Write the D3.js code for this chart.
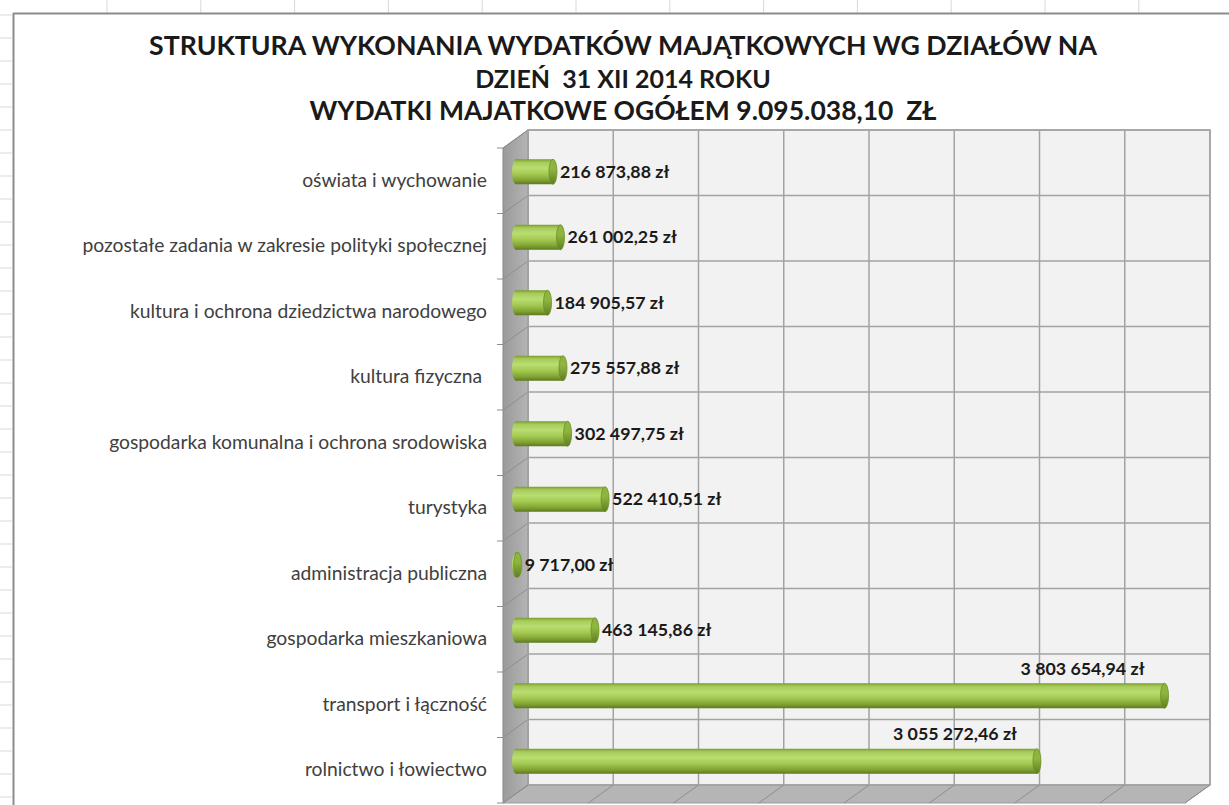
<!DOCTYPE html>
<html><head><meta charset="utf-8">
<script src="https://cdn.jsdelivr.net/npm/d3@7/dist/d3.min.js"></script>
<style>
html,body{margin:0;padding:0;background:#fff;}
svg{display:block;}
text{white-space:pre;}
</style></head>
<body>
<svg id="chart" width="1229" height="805"></svg>
<script>
// ---- data ----
const titleLines = [
  "STRUKTURA WYKONANIA WYDATKÓW MAJĄTKOWYCH WG DZIAŁÓW NA",
  "DZIEŃ  31 XII 2014 ROKU",
  "WYDATKI MAJATKOWE OGÓŁEM 9.095.038,10  ZŁ"
];
const categories = [
  "oświata i wychowanie",
  "pozostałe zadania w zakresie polityki społecznej",
  "kultura i ochrona dziedzictwa narodowego",
  "kultura fizyczna ",
  "gospodarka komunalna i ochrona srodowiska",
  "turystyka",
  "administracja publiczna",
  "gospodarka mieszkaniowa",
  "transport i łączność",
  "rolnictwo i łowiectwo"
];
const values = [216873.88, 261002.25, 184905.57, 275557.88, 302497.75, 522410.51, 9717.00, 463145.86, 3803654.94, 3055272.46];
const valueLabels = ["216 873,88 zł","261 002,25 zł","184 905,57 zł","275 557,88 zł","302 497,75 zł","522 410,51 zł","9 717,00 zł","463 145,86 zł","3 803 654,94 zł","3 055 272,46 zł"];
const xTicks = [0, 500000, 1000000, 1500000, 2000000, 2500000, 3000000, 3500000, 4000000];

// ---- layout ----
const svg = d3.select("#chart");
const W = 1229, H = 805;
const wall = {left: 528, right: 1210, top: 130, bottom: 785};
const depth = {dx: -25, dy: 18};
const barOff = {dx: -12, dy: 9};
const barH = 25, capRx = 4;
const FONT = "Lato, 'Open Sans', sans-serif";

const x = d3.scaleLinear().domain([0, 4000000]).range([0, wall.right - wall.left]);
const y = d3.scaleBand().domain(categories).range([wall.top, wall.bottom]).paddingInner(0).paddingOuter(0);

const defs = svg.append("defs");
const bg = defs.append("linearGradient").attr("id","barGrad").attr("x1",0).attr("y1",0).attr("x2",0).attr("y2",1);
[[0,"#7a9a30"],[0.12,"#a5cb58"],[0.35,"#badd72"],[0.6,"#a3c950"],[0.85,"#80a033"],[1,"#5b7a1d"]]
  .forEach(([o,c])=>bg.append("stop").attr("offset",o).attr("stop-color",c));
const cg = defs.append("linearGradient").attr("id","capGrad").attr("x1",0).attr("y1",0).attr("x2",0).attr("y2",1);
[[0,"#8db43e"],[0.4,"#8fb53f"],[1,"#5e7d20"]]
  .forEach(([o,c])=>cg.append("stop").attr("offset",o).attr("stop-color",c));
const sg = defs.append("linearGradient").attr("id","sideGrad").attr("x1",0).attr("y1",0).attr("x2",1).attr("y2",0);
[[0,"#9a9a9a"],[1,"#b4b4b4"]].forEach(([o,c])=>sg.append("stop").attr("offset",o).attr("stop-color",c));

// ---- spreadsheet background ----
const bgG = svg.append("g");
d3.range(107, W, 93.8).forEach(v=>bgG.append("line").attr("x1",v).attr("x2",v).attr("y1",0).attr("y2",13).attr("stroke","#d9d9d9"));
d3.range(15, H, 23).forEach(v=>bgG.append("line").attr("x1",0).attr("x2",12).attr("y1",v).attr("y2",v).attr("stroke","#d9d9d9"));
bgG.append("line").attr("x1",13).attr("x2",W).attr("y1",13.5).attr("y2",13.5).attr("stroke","#8c8c8c").attr("stroke-width",2);
bgG.append("line").attr("x1",13.5).attr("x2",13.5).attr("y1",13).attr("y2",H).attr("stroke","#8c8c8c").attr("stroke-width",2);

// ---- title ----
const tBase = [55, 88, 120];
const tSize = [26.7, 25, 26.5];
svg.append("g").selectAll("text").data(titleLines).join("text")
  .attr("x", 623).attr("y", (d,i)=>tBase[i])
  .attr("text-anchor","middle")
  .attr("font-family",FONT).attr("font-weight","bold").attr("font-size",(d,i)=>tSize[i])
  .attr("fill","#1a1a1a").text(d=>d);

// ---- walls ----
const g3 = svg.append("g");
g3.append("rect").attr("x",wall.left).attr("y",wall.top).attr("width",wall.right-wall.left).attr("height",wall.bottom-wall.top)
  .attr("fill","#f2f2f2").attr("stroke","#a0a0a0").attr("stroke-width",1.5);
g3.append("polygon").attr("points",[[wall.left,wall.top],[wall.left+depth.dx,wall.top+depth.dy],[wall.left+depth.dx,wall.bottom+depth.dy],[wall.left,wall.bottom]].join(" "))
  .attr("fill","url(#sideGrad)").attr("stroke","#8a8a8a").attr("stroke-width",1);
g3.append("polygon").attr("points",[[wall.left,wall.bottom],[wall.right,wall.bottom],[wall.right+depth.dx,wall.bottom+depth.dy],[wall.left+depth.dx,wall.bottom+depth.dy]].join(" "))
  .attr("fill","#b5b5b5").attr("stroke","#9a9a9a").attr("stroke-width",1);

const bounds = categories.map(c=>y(c)).concat([wall.bottom]);
bounds.forEach(b=>{
  g3.append("line").attr("x1",wall.left).attr("x2",wall.right).attr("y1",b).attr("y2",b).attr("stroke","#a3a3a3").attr("stroke-width",1.5);
  g3.append("line").attr("x1",wall.left).attr("x2",wall.left+depth.dx).attr("y1",b).attr("y2",b+depth.dy).attr("stroke","#8e8e8e").attr("stroke-width",1);
  g3.append("line").attr("x1",wall.left+depth.dx-6).attr("x2",wall.left+depth.dx).attr("y1",b+depth.dy).attr("y2",b+depth.dy).attr("stroke","#8e8e8e").attr("stroke-width",1);
});
xTicks.forEach(t=>{
  const xx = wall.left + x(t);
  g3.append("line").attr("x1",xx).attr("x2",xx).attr("y1",wall.top).attr("y2",wall.bottom).attr("stroke","#a3a3a3").attr("stroke-width",1.5);
  g3.append("line").attr("x1",xx).attr("x2",xx+depth.dx).attr("y1",wall.bottom).attr("y2",wall.bottom+depth.dy).attr("stroke","#8e8e8e").attr("stroke-width",1);
});

// ---- category labels ----
svg.append("g").selectAll("text").data(categories).join("text")
  .attr("x", 487).attr("y", d=>y(d)+y.bandwidth()/2+depth.dy+6)
  .attr("text-anchor","end")
  .attr("font-family",FONT).attr("font-size",19.3)
  .attr("fill","#404040").text(d=>d);

// ---- bars ----
const data = categories.map((c,i)=>({cat:c, v:values[i], label:valueLabels[i]}));
const x0 = wall.left + barOff.dx;
const cy = d => y(d.cat) + y.bandwidth()/2 + barOff.dy;
const bars = svg.append("g").selectAll("g").data(data).join("g");
bars.append("rect").attr("x",x0).attr("y",d=>cy(d)-barH/2).attr("width",d=>x(d.v)).attr("height",barH).attr("fill","url(#barGrad)");
bars.append("ellipse").attr("cx",x0).attr("cy",cy).attr("rx",capRx).attr("ry",barH/2).attr("fill","url(#barGrad)");
bars.append("ellipse").attr("cx",d=>x0+x(d.v)).attr("cy",cy).attr("rx",capRx).attr("ry",barH/2)
  .attr("fill","url(#capGrad)").attr("stroke","#6d8f28").attr("stroke-width",0.8);

// ---- value labels ----
const above = d => d.v > 2000000;
bars.append("text")
  .attr("x", d => above(d) ? x0 + x(d.v) - 20 : x0 + x(d.v) + capRx + 3)
  .attr("y", d => above(d) ? cy(d) - 21 : cy(d) + 6)
  .attr("text-anchor", d => above(d) ? "end" : "start")
  .attr("font-family",FONT).attr("font-weight","bold").attr("font-size",17.8)
  .attr("fill","#1a1a1a").text(d=>d.label);
</script>
</body></html>
